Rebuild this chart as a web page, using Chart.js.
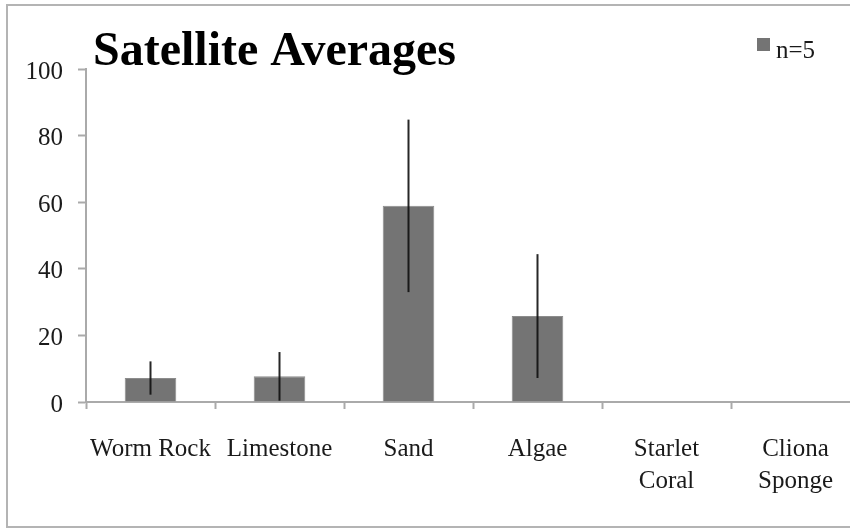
<!DOCTYPE html>
<html>
<head>
<meta charset="utf-8">
<script src="https://cdn.jsdelivr.net/npm/chart.js@4.4.0/dist/chart.umd.min.js"></script>
<style>
  html, body { margin: 0; padding: 0; background: #fff; overflow: hidden; }
  .clip { position: absolute; left: 0; top: 0; width: 850px; height: 529px; overflow: hidden; }
  .frame { position: absolute; left: 6px; top: 4px; width: 860px; height: 520px;
           border: 2px solid #b4b4b4; border-right: none; pointer-events: none; }
</style>
</head>
<body>
<div class="clip">
  <canvas id="myChart" width="880" height="529"></canvas>
  <div class="frame"></div>
</div>
<script>
// ---------- data
const chartTitle = 'Satellite Averages';
const seriesName = 'n=5';
const categories = [
    'Worm Rock',
    'Limestone',
    'Sand',
    'Algae',
    ['Starlet', 'Coral'],
    ['Cliona', 'Sponge'],
];
const means = [7.2, 7.7, 58.9, 25.8, 0, 0];
const errors = [5.0, 7.3, 25.9, 18.6, 0, 0];
const yTicks = [0, 20, 40, 60, 80, 100];

const barColor = '#747474';
const axisColor = '#aaaaaa';
const serif = '"Liberation Serif", "DejaVu Serif", serif';

// ---------- error bars, drawn on top of the bars
const errorBars = {
    id: 'errorBars',
    afterDatasetsDraw(chart) {
        const ctx = chart.ctx;
        const y = chart.scales.y;
        const meta = chart.getDatasetMeta(0);
        ctx.save();
        ctx.strokeStyle = 'rgba(15,15,15,0.9)';
        ctx.lineWidth = 2;
        meta.data.forEach((bar, i) => {
            if (!errors[i]) return;
            ctx.beginPath();
            ctx.moveTo(bar.x, y.getPixelForValue(means[i] + errors[i]));
            ctx.lineTo(bar.x, y.getPixelForValue(means[i] - errors[i]));
            ctx.stroke();
        });
        ctx.restore();
    }
};

// ---------- title and legend sit over the top of the plot, like the original
const titleLegend = {
    id: 'titleLegend',
    afterDraw(chart) {
        const ctx = chart.ctx;
        ctx.save();
        ctx.textBaseline = 'alphabetic';
        ctx.textAlign = 'left';
        ctx.fillStyle = '#000';
        ctx.font = 'bold 48px ' + serif;
        ctx.fillText(chartTitle, 93, 65);

        ctx.fillStyle = chart.data.datasets[0].backgroundColor;
        ctx.fillRect(757, 38, 13, 13);
        ctx.fillStyle = '#1a1a1a';
        ctx.font = '25px ' + serif;
        ctx.fillText(chart.data.datasets[0].label, 776, 58);
        ctx.restore();
    }
};

const data = {
    labels: categories,
    datasets: [{
        label: seriesName,
        data: means,
        backgroundColor: barColor,
        borderColor: '#8c8c8c',
        borderWidth: 1,
        categoryPercentage: 1,
        barPercentage: 0.4,
    }]
};

const config = {
    type: 'bar',
    data: data,
    plugins: [errorBars, titleLegend],
    options: {
        responsive: false,
        animation: false,
        layout: { padding: { top: 69, right: 20, bottom: 0, left: 0 } },
        plugins: {
            legend: { display: false },
            title: { display: false },
            tooltip: { enabled: false },
        },
        scales: {
            x: {
                offset: true,
                grid: {
                    offset: true,
                    drawOnChartArea: false,
                    drawTicks: true,
                    tickLength: 7,
                    tickColor: axisColor,
                    tickWidth: 2,
                },
                border: { display: true, color: axisColor, width: 2 },
                ticks: {
                    color: '#1a1a1a',
                    font: { family: serif, size: 25, lineHeight: 1.28 },
                    padding: 24,
                    maxRotation: 0,
                    autoSkip: false,
                },
                afterFit(scale) { scale.height = 127; },
            },
            y: {
                min: yTicks[0],
                max: yTicks[yTicks.length - 1],
                afterBuildTicks(scale) {
                    scale.ticks = yTicks.map(v => ({ value: v }));
                },
                grid: {
                    drawOnChartArea: false,
                    drawTicks: true,
                    tickLength: 8,
                    tickColor: axisColor,
                    tickWidth: 2,
                },
                border: { display: true, color: axisColor, width: 2 },
                ticks: {
                    color: '#1a1a1a',
                    font: { family: serif, size: 25 },
                    padding: 15,
                    labelOffset: 3,
                },
                afterFit(scale) { scale.width = 86; },
            }
        }
    }
};

const myChart = new Chart(
    document.getElementById('myChart'),
    config
);
</script>
</body>
</html>
